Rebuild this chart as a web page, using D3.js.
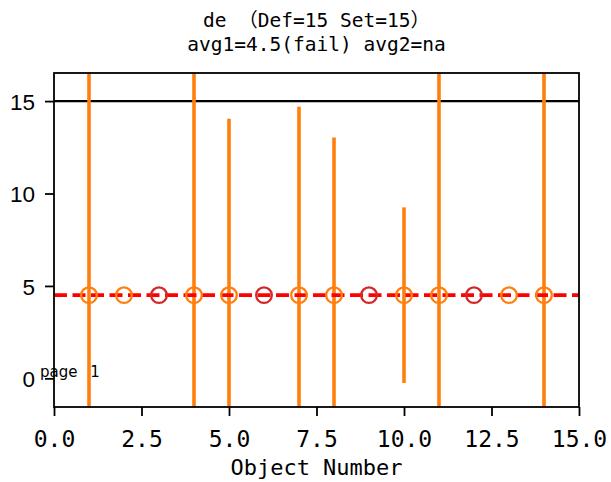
<!DOCTYPE html>
<html><head><meta charset="utf-8">
<script src="https://cdn.jsdelivr.net/npm/d3@7"></script>
<style>
body{margin:0;background:#fff;}
.mono{font-family:"DejaVu Sans Mono","Noto Sans Mono CJK JP",monospace;}
.sans{font-family:"Liberation Sans",Arial,sans-serif;}
.dv{font-family:"DejaVu Sans",sans-serif;}
</style></head>
<body>
<script>
const objects = [1,2,3,4,5,6,7,8,9,10,11,12,13,14];
const values  = [4.5,4.5,4.5,4.5,4.5,4.5,4.5,4.5,4.5,4.5,4.5,4.5,4.5,4.5];
const colorsKey = ["o","o","r","o","o","r","o","o","r","o","o","r","o","o"];
const errX = [1,4,5,7,8,10,11,14];
const errHalf = [14,14,9.54,10.2,8.53,4.75,14,14];
const xTicks = [0,2.5,5,7.5,10,12.5,15];
const yTicks = [0,5,10,15];
const setLine = 15;
const avgLine = 4.5;
const titleLines = ["de （Def=15 Set=15）","avg1=4.5(fail) avg2=na"];

const W=611,H=482;
const L=54,R=579,T=73,B=407;
const svg=d3.select("body").append("svg").attr("width",W).attr("height",H);
const x=d3.scaleLinear().domain([0,15]).range([L,R]);
const y=d3.scaleLinear().domain([-1.55,16.52]).range([B,T]);
const col={o:"#ff7f0e",r:"#d62728"};

svg.append("clipPath").attr("id","c").append("rect").attr("x",L).attr("y",T).attr("width",R-L).attr("height",B-T);
const g=svg.append("g").attr("clip-path","url(#c)");

// set line
g.append("line").attr("x1",L).attr("x2",R).attr("y1",y(setLine)).attr("y2",y(setLine)).attr("stroke","#000").attr("stroke-width",2.2);
// error bars
g.selectAll(".eb").data(errX).enter().append("line")
 .attr("x1",d=>x(d)).attr("x2",d=>x(d))
 .attr("y1",(d,i)=>y(avgLine+errHalf[i])).attr("y2",(d,i)=>y(avgLine-errHalf[i]))
 .attr("stroke","#ff7f0e").attr("stroke-width",3.6);
// avg line
g.append("line").attr("x1",L).attr("x2",R).attr("y1",y(avgLine)).attr("y2",y(avgLine))
 .attr("stroke","#ff0000").attr("stroke-width",3.6).attr("stroke-dasharray","13,5.5");
// markers
g.selectAll(".m").data(objects).enter().append("circle")
 .attr("cx",d=>x(d)).attr("cy",(d,i)=>y(values[i])).attr("r",7.8)
 .attr("fill","none").attr("stroke",(d,i)=>col[colorsKey[i]]).attr("stroke-width",2.3);

// frame
svg.append("rect").attr("x",L).attr("y",T).attr("width",R-L).attr("height",B-T).attr("fill","none").attr("stroke","#000").attr("stroke-width",1.8);

// axes
const xa=svg.append("g").attr("transform",`translate(0,${B})`)
 .call(d3.axisBottom(x).tickValues(xTicks).tickFormat(d3.format(".1f")).tickSize(9));
xa.select(".domain").remove();
xa.selectAll("line").attr("stroke-width",1.8);
xa.selectAll("text").attr("class","mono").attr("font-size",23).attr("fill","#000").attr("font-family",null)
  .attr("y",40).attr("dy",0);

const ya=svg.append("g").attr("transform",`translate(${L},0)`)
 .call(d3.axisLeft(y).tickValues(yTicks).tickSize(9).tickPadding(10));
ya.select(".domain").remove();
ya.selectAll("line").attr("stroke-width",1.8);
ya.selectAll("text").attr("class","sans").attr("font-size",22.5).attr("fill","#000").attr("font-family",null).attr("dy","0.36em");

// title
svg.append("text").attr("class","mono").attr("x",(L+R)/2).attr("y",27).attr("text-anchor","middle").attr("font-size",19.5).text(titleLines[0]);
svg.append("text").attr("class","mono").attr("x",(L+R)/2).attr("y",51).attr("text-anchor","middle").attr("font-size",19.5).text(titleLines[1]);
// x label
svg.append("text").attr("class","mono").attr("x",(L+R)/2).attr("y",475).attr("text-anchor","middle").attr("font-size",22).text("Object Number");
// page label
svg.append("text").attr("class","dv").attr("x",40).attr("y",377).attr("font-size",15).attr("word-spacing",8).text("page 1");
</script>
</body></html>
